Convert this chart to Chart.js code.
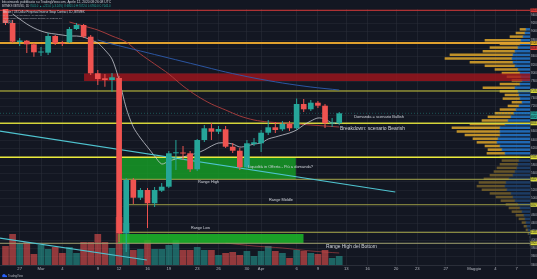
<!DOCTYPE html>
<html lang="it">
<head>
<meta charset="utf-8">
<title>XBTUSD 1D</title>
<script src="https://cdn.jsdelivr.net/npm/chart.js@4.4.1/dist/chart.umd.min.js"></script>
<style>
html,body{margin:0;padding:0;background:#131722;overflow:hidden;}
#c{display:block;}
</style>
</head>
<body>
<canvas id="c" width="537" height="279"></canvas>
<script>
// ---------------- data (day index: 0 = 1 Mar 2020) ----------------
const DAYS  = [-5,-4,-3,-2,-1,0,1,2,3,4,5,6,7,8,9,10,11,12,13,14,15,16,17,18,19,20,21,22,23,24,25,26,27,28,29,30,31,32,33,34,35,36,37,38,39,40,41,42];
const OPEN  = [9568,9208,8752,8783,8697,8500,8495,8896,8728,8745,9064,9160,8879,8001,7881,7840,7888,4168,5440,5015,5200,4881,5183,5279,6081,6095,6081,5697,6400,6681,6599,6657,6239,6143,5745,6304,6321,6575,6705,6657,6784,6681,7264,7137,7295,7223,6796,6801];
const HIGH  = [9664,9280,8848,8800,8728,8632,8968,8920,8776,9112,9208,9184,8920,8080,7984,8008,7936,5488,5488,5248,5248,5272,5368,6136,6400,6256,6136,6424,6760,6808,6736,6736,6328,6208,6400,6448,6640,6880,6832,6856,6856,7396,7384,7360,7336,7264,6928,7072];
const LOW   = [9160,8728,8656,8488,8399,8416,8440,8680,8656,8728,9040,8848,7960,7720,7679,7559,3952,3712,4864,4960,4288,4792,5152,5248,5680,5920,5632,5656,6352,6400,6544,6208,6088,5680,5680,6256,6112,6520,6568,6616,6616,6640,7072,7096,7168,6688,6712,6760];
const CLOSE = [9208,8760,8788,8697,8505,8512,8896,8721,8709,9064,9160,8879,8001,7864,7840,7905,4168,5440,5015,5200,4881,5200,5279,6081,6095,6076,5697,6400,6681,6599,6664,6239,6143,5745,6321,6345,6575,6705,6640,6784,6681,7264,7137,7295,7223,6801,6820,7041];
const VOLUME = [19,31,22,23,11,20,16,18,12,18,12,23,23,31,23,17,48,42,15,16,25,16,16,20,25,15,15,18,15,15,10,12,13,10,14,9,14,19,14,12,7,15,14,12,11,15,7,9];

const MA_FAST_DAYS = [-4,-3,-2,-1,0,1,2,3,4,5,6,7,8,9,10,11,12,13,14,15,16,17,18,19,20,21,22,23,24,25,26,27,28,29,30,31,32,33,34,35,36,37,38,39,40,41,42];
const MA_FAST = [9424,9304,9184,9088,9016,8968,8944,8920,8896,8896,8872,8800,8728,8560,8344,7840,7168,6712,6448,6232,6016,5824,5896,5944,5992,6040,6088,6160,6256,6328,6328,6304,6232,6256,6304,6328,6424,6472,6520,6568,6640,6760,6856,6928,6904,6808,6808];
const MA_MID_DAYS = [4,6,8,10,12,14,16,18,20,22,24,26,28,30,32,34,36,38,40,42];
const MA_MID = [9232,9136,9040,8896,8752,8464,8224,7984,7696,7456,7264,7120,6976,6880,6832,6808,6784,6760,6736,6712];
const MA_SLOW_DAYS = [8,10,14,18,22,26,30,34,38,42];
const MA_SLOW = [8800,8704,8536,8368,8200,8032,7888,7768,7672,7600];
const VOL_MA_DAYS = [26,30,34,38,42];
const VOL_MA = [22,19,17,14,12];

const PROFILE_PRICES = [9450,9350,9250,9150,9050,8950,8850,8750,8650,8550,8450,8350,8250,8150,8050,7950,7850,7750,7650,7550,7450,7350,7250,7150,7050,6950,6850,6750,6650,6550,6450,6350,6250,6150,6050,5950,5850,5750,5650,5550,5450,5350,5250,5150,5050,4950,4850,4750,4650,4550,4450,4350,4250,4150,4050,3950,3850,3750,3650,3550];
const PROFILE_UP   = [4,5,7,9,10,12,15,17,18,17,15,12,10,9,8,10,15,12,11,10,8,11,14,16,19,22,25,30,30,30,32,33,30,28,25,10,11,12,13,15,17,21,24,25,23,19,17,15,12,10,8,6,5,4,3,2,1,0,0,0];
const PROFILE_DOWN = [6,9,13,36,20,28,32,63,67,43,30,23,18,14,10,20,32,18,14,17,10,11,16,19,23,26,35,48,43,35,25,20,15,14,18,20,17,18,20,21,23,25,27,28,25,21,17,14,12,11,10,8,6,4,3,2,1,0,0,0];

const LEVEL_PRICES = [9513,8728,7576,6801,5985,5457,4847,4185,3921];
const LEVEL_FROM   = [null,null,null,null,null,11.3,12.4,11.0,null];
const ZONE_TOP    = [7996,5985,4144];
const ZONE_BOTTOM = [7816,5457,3921];
const ZONE_FROM   = [6.06,11.35,10.85];
const ZONE_TO     = [null,35.9,37.0];
const TREND_A_DAYS = [-5.8,49.9];
const TREND_A      = [6616,5152];
const TREND_B_DAYS = [-5.8,14.9];
const TREND_B      = [4048,3520];

const NOTE_TEXT  = ['Domanda = scenario Bullish','Breakdown: scenario Bearish','Liquidità in Offerta - Più a domanda?','Range High','Range Middle','Range Low','Range High del Bottom'];
const NOTE_DAY   = [44.1,42.1,29.15,23.6,33.8,22.46,40.14];
const NOTE_PRICE = [6959,6664,5745,5385,4953,4281,3839];

const TICK_DAYS   = [-3,0,3,8,11,15,18,22,25,29,31,36,39,43,46,50,53,57,61,64,67];
const TICK_LABELS = ['27','Mar','4','9','12','16','19','23','26','30','Apr','6','9','13','16','20','23','27','Maggio','4','7'];

const TAG_PRICES = [9513,8728,8608,7576,7041,6952,6801,5985,5457,4847,4185,3921];

// ---------------- styling ----------------
const FAM = '"Liberation Sans", Arial, sans-serif';
const XMIN = -5.775, XMAX = 68.87, YMIN = 3400, YMAX = 9544;
const UP = '#26a69a', DOWN = '#ef5350';
const LEVEL_COLORS = ['#d83a3a','#e0a12e','#c9c83a','#d4d43a','#eaea3a','#a8a84a','#9a9a45','#a8a84a','#a0a070'];
const LEVEL_WIDTHS = [1,2,1,1.5,1.6,1,1,1,1];
const ZONE_COLORS = ['rgba(165,20,28,0.78)','rgba(22,165,38,0.78)','rgba(28,185,40,0.85)'];
const NOTE_WIDTH = [50,65,65,21,24,19,51];
const NOTE_ALIGN = ['left','left','left','center','center','center','left'];
const TAG_COLORS = ['#e53935','#e6b422','#e53935','#d8d83a','#26a69a','#26a69a','#d8d83a','#e8e83a','#d8d83a','#d8d83a','#d8d83a','#d8d83a'];

const isUp = CLOSE.map((c,i) => c >= OPEN[i]);
const datasets = [];

datasets.push({type:'bar', data: DAYS.map((d,i)=>({x:d, y:[OPEN[i], CLOSE[i]]})),
  backgroundColor: isUp.map(u=>u?UP:DOWN), borderWidth:0, grouped:false,
  barPercentage:0.8, categoryPercentage:1, minBarLength:1, order:1, xAxisID:'x', yAxisID:'y'});
datasets.push({type:'bar', data: DAYS.map((d,i)=>({x:d, y:[LOW[i], HIGH[i]]})),
  backgroundColor: isUp.map(u=>u?UP:DOWN), borderWidth:0, grouped:false, maxBarThickness:1,
  barPercentage:0.5, categoryPercentage:1, order:2, xAxisID:'x', yAxisID:'y'});
datasets.push({type:'bar', data: DAYS.map((d,i)=>({x:d, y:VOLUME[i]})),
  backgroundColor: isUp.map(u=>u?'rgba(38,166,154,0.55)':'rgba(239,83,80,0.58)'), borderWidth:0, grouped:false,
  barPercentage:0.94, categoryPercentage:1, order:100, xAxisID:'x', yAxisID:'yv'});
datasets.push({type:'bar', indexAxis:'y', stack:'vp', data: PROFILE_PRICES.map((p,i)=>({y:p, x:PROFILE_UP[i]})),
  backgroundColor: PROFILE_PRICES.map(p => p>=6000 ? 'rgba(34,114,196,0.9)' : 'rgba(30,66,110,0.85)'), borderWidth:0,
  barPercentage:1, categoryPercentage:1, order:90, xAxisID:'xp', yAxisID:'yp'});
datasets.push({type:'bar', indexAxis:'y', stack:'vp', data: PROFILE_PRICES.map((p,i)=>({y:p, x:PROFILE_DOWN[i]})),
  backgroundColor: PROFILE_PRICES.map(p => p>=6000 ? 'rgba(212,158,42,0.9)' : 'rgba(118,96,42,0.85)'), borderWidth:0,
  barPercentage:1, categoryPercentage:1, order:90, xAxisID:'xp', yAxisID:'yp'});

ZONE_TOP.forEach((t,i) => {
  const a = ZONE_FROM[i], b = ZONE_TO[i] == null ? XMAX : ZONE_TO[i];
  datasets.push({type:'line', data:[{x:a,y:t},{x:b,y:t}], borderColor:'rgba(0,0,0,0)', borderWidth:0, pointRadius:0,
    fill:'+1', backgroundColor: ZONE_COLORS[i], order:80, xAxisID:'x', yAxisID:'y'});
  datasets.push({type:'line', data:[{x:a,y:ZONE_BOTTOM[i]},{x:b,y:ZONE_BOTTOM[i]}], borderColor:'rgba(0,0,0,0)', borderWidth:0, pointRadius:0,
    fill:false, order:80, xAxisID:'x', yAxisID:'y'});
});
LEVEL_PRICES.forEach((p,i) => {
  const a = LEVEL_FROM[i] == null ? XMIN : LEVEL_FROM[i];
  datasets.push({type:'line', data:[{x:a,y:p},{x:XMAX,y:p}], borderColor:LEVEL_COLORS[i], borderWidth:LEVEL_WIDTHS[i],
    pointRadius:0, fill:false, order:70, xAxisID:'x', yAxisID:'y'});
});
datasets.push({type:'line', data:[{x:XMIN,y:CLOSE[CLOSE.length-1]},{x:XMAX,y:CLOSE[CLOSE.length-1]}], borderColor:'rgba(38,166,154,0.55)',
  borderWidth:0.8, borderDash:[1,2], pointRadius:0, fill:false, order:65, xAxisID:'x', yAxisID:'y'});
datasets.push({type:'line', data: MA_SLOW_DAYS.map((d,i)=>({x:d,y:MA_SLOW[i]})), borderColor:'rgba(45,92,175,0.9)', borderWidth:1,
  pointRadius:0, tension:0.3, fill:false, order:60, xAxisID:'x', yAxisID:'y'});
datasets.push({type:'line', data: MA_MID_DAYS.map((d,i)=>({x:d,y:MA_MID[i]})), borderColor:'rgba(175,62,62,0.9)', borderWidth:1,
  pointRadius:0, tension:0.3, fill:false, order:60, xAxisID:'x', yAxisID:'y'});
datasets.push({type:'line', data: MA_FAST_DAYS.map((d,i)=>({x:d,y:MA_FAST[i]})), borderColor:'rgba(205,208,216,0.85)', borderWidth:0.9,
  pointRadius:0, tension:0.3, fill:false, order:58, xAxisID:'x', yAxisID:'y'});
datasets.push({type:'line', data: VOL_MA_DAYS.map((d,i)=>({x:d,y:VOL_MA[i]})), borderColor:'rgba(200,70,70,0.7)', borderWidth:0.8,
  pointRadius:0, tension:0.3, fill:false, order:95, xAxisID:'x', yAxisID:'yv'});
datasets.push({type:'line', data: TREND_A_DAYS.map((d,i)=>({x:d,y:TREND_A[i]})), borderColor:'#4fc3cf', borderWidth:1.2,
  pointRadius:0, fill:false, order:50, xAxisID:'x', yAxisID:'y'});
datasets.push({type:'line', data: TREND_B_DAYS.map((d,i)=>({x:d,y:TREND_B[i]})), borderColor:'#4fc3cf', borderWidth:1.2,
  pointRadius:0, fill:false, order:50, xAxisID:'x', yAxisID:'y'});

function fitFont(ctx, text, width) {
  ctx.font = '10px ' + FAM;
  const w = ctx.measureText(text).width || 1;
  return 10 * width / w;
}
function drawFit(ctx, text, x, y, width, align, color) {
  const s = fitFont(ctx, text, width);
  ctx.font = s.toFixed(2) + 'px ' + FAM;
  ctx.textAlign = align; ctx.fillStyle = color; ctx.fillText(text, x, y);
}

const overlay = {
  id: 'overlay',
  beforeDraw(chart) {
    const c = chart.ctx; c.save(); c.fillStyle = '#131722'; c.fillRect(0,0,chart.width,chart.height); c.restore();
  },
  afterDatasetsDraw(chart) {
    const c = chart.ctx, x = chart.scales.x, y = chart.scales.y;
    c.save(); c.textBaseline = 'middle';
    NOTE_TEXT.forEach((t,i) => drawFit(c, t, x.getPixelForValue(NOTE_DAY[i]), y.getPixelForValue(NOTE_PRICE[i]), NOTE_WIDTH[i], NOTE_ALIGN[i], '#d1d4dc'));
    // legend
    drawFit(c, 'Bitcoin / US Dollar Perpetual Inverse Swap Contract, 1D, BITMEX', 3, 11.8, 82, 'left', '#d1d4dc');
    drawFit(c, 'MA (9, close, 0)   MA (50, close, 0)   MA (100, close, 0)', 3, 15.2, 43, 'left', '#b2b5be');
    drawFit(c, 'Volume Profile Visible Range (Number Of Rows, 24, Up/Down, 70)', 3, 18.6, 59, 'left', '#b2b5be');
    drawFit(c, 'Vol (20)', 3, 22.6, 10, 'left', '#b2b5be');
    c.restore();
  },
  afterDraw(chart) {
    const c = chart.ctx, y = chart.scales.y, ca = chart.chartArea;
    c.save(); c.textBaseline = 'middle';
    // header
    drawFit(c, 'bitcoinweek pubblicato su TradingView.com, Aprile 12, 2020 08:26:08 UTC', 2, 2.2, 109, 'left', '#d1d4dc');
    const last = CLOSE.length - 1, ch = CLOSE[last] - CLOSE[last-1];
    const p1 = 'BITMEX:XBTUSD, 1D ';
    const p2 = CLOSE[last].toFixed(1) + ' \u25B2 +' + ch.toFixed(1) + ' (+' + (ch/CLOSE[last-1]*100).toFixed(2) + '%) O:' + OPEN[last].toFixed(1) + ' H:' + HIGH[last].toFixed(1) + ' L:' + LOW[last].toFixed(1) + ' C:' + CLOSE[last].toFixed(1);
    const s = fitFont(c, p1 + p2, 109);
    c.font = s.toFixed(2) + 'px ' + FAM; c.textAlign = 'left';
    c.fillStyle = '#d1d4dc'; c.fillText(p1, 2, 5.8);
    const w1 = c.measureText(p1).width;
    c.fillStyle = '#26a69a'; c.fillText(p2, 2 + w1, 5.8);
    // axis tags
    TAG_PRICES.forEach((p,i) => {
      const py = y.getPixelForValue(p);
      c.fillStyle = TAG_COLORS[i]; c.fillRect(ca.right + 0.5, py - 2, 7, 4);
      c.font = '2.6px ' + FAM; c.fillStyle = '#131722'; c.textAlign = 'left';
      c.fillText(p.toFixed(1), ca.right + 1, py + 0.2);
    });
    // footer
    c.fillStyle = '#2962ff';
    c.beginPath(); c.arc(4, 275.5, 1.6, 0, Math.PI*2); c.fill();
    c.fillRect(2.4, 275.5, 4.6, 1.6);
    drawFit(c, 'TradingView', 8, 275.8, 15, 'left', '#b2b5be');
    c.restore();
  }
};

Chart.defaults.font.family = FAM;
new Chart(document.getElementById('c'), {
  type: 'bar',
  data: { datasets },
  options: {
    responsive: false, animation: false, devicePixelRatio: 1, events: [],
    layout: { padding: { top: 9, left: 0, right: 0, bottom: 0 }, autoPadding: false },
    plugins: { legend: { display: false }, tooltip: { enabled: false } },
    scales: {
      x: { type:'linear', axis:'x', position:'bottom', min:XMIN, max:XMAX, offset:false,
           afterBuildTicks: s => { s.ticks = TICK_DAYS.map(v => ({value: v})); },
           afterFit: s => { s.height = 14; },
           ticks: { autoSkip:false, maxRotation:0, padding:1, font:{size:4.2}, color:'#b2b5be', callback:(v,i) => TICK_LABELS[i] },
           grid: { color:'rgba(42,46,57,0.55)', drawTicks:false, offset:false },
           border: { color:'#2a2e39' } },
      y: { type:'linear', axis:'y', position:'right', min:YMIN, max:YMAX,
           afterFit: s => { s.width = 7; },
           ticks: { stepSize:200, includeBounds:false, font:{size:3}, color:'#b2b5be', padding:1, callback: v => String(v) },
           grid: { color:'rgba(42,46,57,0.45)', drawTicks:false },
           border: { color:'#2a2e39' } },
      yv: { type:'linear', axis:'y', position:'left', display:false, min:0, max:256 },
      yp: { type:'linear', axis:'y', position:'right', display:false, min:YMIN, max:YMAX },
      xp: { type:'linear', axis:'x', position:'bottom', display:false, min:0, max:530, reverse:true, stacked:true, offset:false }
    }
  },
  plugins: [overlay]
});
</script>
</body>
</html>
